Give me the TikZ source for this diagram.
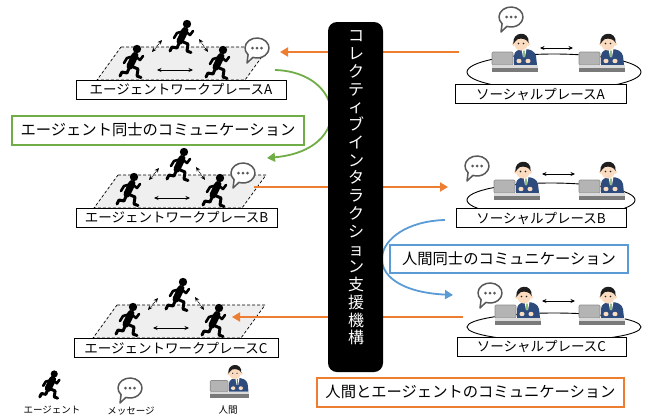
\documentclass[tikz,border=0pt]{standalone}
\usepackage{fontspec}
\setmainfont{Noto Sans CJK JP}
\usetikzlibrary{arrows.meta}

\definecolor{accentorange}{HTML}{ED7D31}
\definecolor{accentgreen}{HTML}{70AD47}
\definecolor{accentblue}{HTML}{5B9BD5}
\definecolor{bubbleline}{HTML}{595959}
\definecolor{floorgray}{HTML}{EFEFEF}
\definecolor{suitblue}{HTML}{2D4B7D}
\definecolor{skintone}{HTML}{FBDCC0}
\definecolor{hairblack}{HTML}{1E1E1E}
\definecolor{laptopgray}{HTML}{B4B4B4}
\definecolor{laptopedge}{HTML}{8C8C8C}
\definecolor{desktop}{HTML}{DADADA}
\definecolor{deskfront}{HTML}{7A7A7A}
\definecolor{tiegreen}{HTML}{5A9A3A}

\tikzset{
  placebox/.style={draw=black, line width=0.8pt, fill=white, inner sep=0pt,
    minimum height=19pt, font=\fontsize{13.5}{15}\selectfont},
  topicbox/.style={line width=2pt, fill=white, inner sep=0pt, minimum height=29pt,
    font=\fontsize{15.3}{17}\selectfont},
  legendtext/.style={font=\fontsize{9.5}{11}\selectfont, inner sep=0pt},
  flow/.style={accentorange, line width=1.8pt, -{Triangle[length=8pt,width=9pt]}},
  curvearrow/.style={line width=1.8pt, -{Triangle[length=8pt,width=9pt]}},
  talk/.style={line width=0.7pt, {Stealth[length=4.5pt,width=4pt]}-{Stealth[length=4.5pt,width=4pt]}},
  dottalk/.style={talk, densely dotted, line width=0.9pt},
  floorline/.style={dash pattern=on 3pt off 2pt, line width=0.7pt, fill=floorgray},
  ring/.style={line width=0.9pt},
  % a running agent
  runner/.pic={
    \begin{scope}[line cap=round, line join=round, black]
      \fill (5,-13) circle[radius=4.2pt];
      \draw[line width=7pt] (3,-6.5) -- (-2,4);
      \draw[line width=2.6pt] (2,-6) -- (-5,-4) -- (-8,1);
      \draw[line width=2.6pt] (3,-6) -- (8,-2) -- (11,-6);
      \draw[line width=3pt] (-1,4) -- (6,7) -- (5,14) -- (9,15.5);
      \draw[line width=3pt] (-2,4) -- (-5,11) -- (-10,10) -- (-12,14);
    \end{scope}
  },
  % a speech bubble with three dots
  bubble/.pic={
    \draw[bubbleline, line width=1.5pt, fill=white, line join=round]
      (250:12pt and 10pt) -- (-10pt,-15pt) -- (222:12pt and 10pt)
      arc[start angle=222, end angle=-110, x radius=12pt, y radius=10pt] -- cycle;
    \foreach \dx in {-4.5,0,4.5} \fill[bubbleline] (\dx,0) circle[radius=1.5pt];
  },
  % a person working at a laptop
  human/.pic={
    \filldraw[fill=laptopgray, draw=laptopedge, line width=0.6pt, rounded corners=1pt]
      (-28,10) rectangle (-7,23);
    \fill[suitblue] (-6,23) -- (-6,14) .. controls (-6,9) and (-1,7) .. (4,7)
      .. controls (10,7) and (15,9) .. (16,14) -- (17,23) -- cycle;
    \fill[white] (1.5,7) -- (6.5,7) -- (5,15) -- (3,15) -- cycle;
    \fill[tiegreen] (3.3,8.5) -- (4.7,8.5) -- (4.5,15) -- (3.5,15) -- cycle;
    \fill[skintone] (-1,19) ellipse[x radius=2.6pt, y radius=2.2pt];
    \fill[skintone] (8,19) ellipse[x radius=2.6pt, y radius=2.2pt];
    \fill[skintone] (-6.5,2) circle[radius=1.8pt] (8.5,2) circle[radius=1.8pt];
    \fill[skintone] (1,1) ellipse[x radius=7pt, y radius=7.5pt];
    \fill[hairblack] (-6.6,2) .. controls (-8.5,-11) and (10,-12) .. (8.6,1)
      .. controls (7,-3) and (2,-4) .. (-2,-3) .. controls (-4,-2) and (-5,0) .. (-6.6,2) -- cycle;
    \fill[hairblack] (-1.5,1.5) circle[radius=0.8pt] (3.5,1.5) circle[radius=0.8pt];
    \fill[desktop] (-28,23) rectangle (18,25.5);
    \fill[deskfront] (-28,25.5) rectangle (18,30);
  }
}

\begin{document}
\begin{tikzpicture}[x=1pt, y=-1pt]
\useasboundingbox (0,0) rectangle (645,416);

% agent workplaces: dashed floor plates
\foreach \w/\px/\py in {A/121/47, B/118/175, C/117/305} {
  \begin{scope}[shift={(\px,\py)}]
    \draw[floorline] (0,0) -- (148,0) -- (124,33) -- (-24,33) -- cycle;
  \end{scope}
}

% social places: rings
\draw[ring] (554,72) ellipse[x radius=87pt, y radius=18pt];
\draw[ring] (551,200) ellipse[x radius=84pt, y radius=17pt];
\draw[ring] (554,327) ellipse[x radius=87pt, y radius=14pt];

% human-agent message flows
\coordinate (fromA) at (459,52);  \coordinate (toA) at (280,52);
\coordinate (fromB) at (254,187); \coordinate (toB) at (448,187);
\coordinate (fromC) at (463,317); \coordinate (toC) at (232,317);
\draw[flow] (fromA) -- (toA);
\draw[flow] (fromB) -- (toB);
\draw[flow] (fromC) -- (toC);

% agent-to-agent and human-to-human curves
\coordinate (gStart) at (275,70);  \coordinate (gEnd) at (267,158);
\coordinate (bStart) at (445,220); \coordinate (bEnd) at (453,295);
\draw[curvearrow, accentgreen] (gStart) .. controls (345,72) and (355,150) .. (gEnd);
\draw[curvearrow, accentblue] (bStart) .. controls (370,222) and (352,290) .. (bEnd);

% central mechanism bar
\node[fill=black, rounded corners=9pt, minimum width=55pt, minimum height=350pt,
      inner sep=0pt] (bar) at (355.5,197) {};
\node[text=white, align=center, inner sep=0pt, font=\fontsize{16}{17.76}\selectfont]
  (bartitle) at (356,188)
  {コ\\レ\\ク\\テ\\ィ\\ブ\\イ\\ン\\タ\\ラ\\ク\\シ\\ョ\\ン\\支\\援\\機\\構};

% runners and their exchanges
\foreach \w/\px/\py in {A/121/47, B/118/175, C/117/305} {
  \begin{scope}[shift={(\px,\py)}]
    \pic at (11,15) {runner};
    \pic at (61,-10) {runner};
    \pic at (97,16) {runner};
    \coordinate (\w-l1) at (31,5);  \coordinate (\w-m1) at (41,-7);
    \coordinate (\w-m2) at (78,-8); \coordinate (\w-r2) at (87,5);
    \coordinate (\w-l3) at (36,23); \coordinate (\w-r3) at (72,23);
    \draw[dottalk] (\w-l1) -- (\w-m1);
    \draw[dottalk] (\w-m2) -- (\w-r2);
    \draw[talk] (\w-l3) -- (\w-r3);
  \end{scope}
}
\pic at (257,48) {bubble};
\pic at (243,173) {bubble};

% people in the social places
\pic at (520,42) {human};  \pic at (607,42) {human};
\pic at (522,170) {human}; \pic at (607,170) {human};
\pic at (523,295) {human}; \pic at (607,295) {human};
\pic at (511,17) {bubble};
\pic at (477,166) {bubble};
\pic at (490,293) {bubble};
\coordinate (sA1) at (540,48);  \coordinate (sA2) at (573,48);
\coordinate (sB1) at (542,174); \coordinate (sB2) at (575,174);
\coordinate (sC1) at (542,301); \coordinate (sC2) at (575,301);
\draw[talk] (sA1) -- (sA2);
\draw[talk] (sB1) -- (sB2);
\draw[talk] (sC1) -- (sC2);

% place labels
\node[placebox, minimum width=210pt] (wpA) at (181,89.5) {エージェントワークプレースA};
\node[placebox, minimum width=201pt] (wpB) at (176.5,217.5) {エージェントワークプレースB};
\node[placebox, minimum width=204pt] (wpC) at (176,348) {エージェントワークプレースC};
\node[placebox, minimum width=171pt] (spA) at (540.5,94) {ソーシャルプレースA};
\node[placebox, minimum width=170pt] (spB) at (541,218) {ソーシャルプレースB};
\node[placebox, minimum width=169pt] (spC) at (541.5,346.5) {ソーシャルプレースC};

% communication kinds
\node[topicbox, draw=accentgreen, minimum width=292pt] (agentTalk) at (158,130)
  {エージェント同士のコミュニケーション};
\node[topicbox, draw=accentblue, minimum width=238pt, minimum height=28pt] (humanTalk)
  at (509,259) {人間同士のコミュニケーション};
\node[topicbox, draw=accentorange, minimum width=307pt] (mixedTalk) at (470.5,392)
  {人間とエージェントのコミュニケーション};

% legend
\pic[scale=0.85] at (50,385) {runner};
\pic at (130,388) {bubble};
\pic[scale=0.85] at (234,372) {human};
\node[legendtext] (legAgent) at (52,410) {エージェント};
\node[legendtext] (legMsg) at (131,411) {メッセージ};
\node[legendtext] (legHuman) at (228,410) {人間};
\end{tikzpicture}
\end{document}
